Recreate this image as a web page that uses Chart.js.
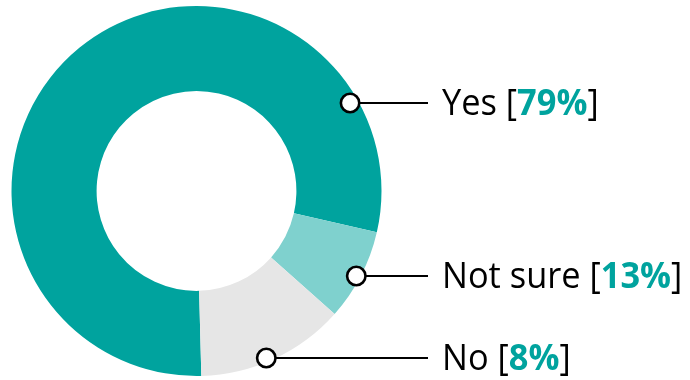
<!DOCTYPE html>
<html>
<head>
<meta charset="utf-8">
<script src="https://cdn.jsdelivr.net/npm/chart.js@4/dist/chart.umd.min.js"></script>
<style>
  html, body { margin: 0; padding: 0; background: #ffffff; }
  #wrap { width: 690px; height: 380px; position: relative; }
</style>
</head>
<body>
<div id="wrap"><canvas id="c" width="690" height="380"></canvas></div>
<script>
// Categories and values
const categories = ['Yes', 'Not sure', 'No'];
// Percentages printed in the labels
const labelPercents = [79, 13, 8];
// Slice sizes as drawn in the reference picture
const sliceValues = [79, 8, 13];
const sliceColors = ['#00A39E', '#7FD1CE', '#E6E6E6'];
// Vertical position of each label row (px)
const labelRows = [103, 276, 358];
// How far inside the outer edge each leader dot sits (px)
const dotInset = [8, 4, 4];

const TEXT_FONT = '"Open Sans", "Noto Sans", sans-serif';
const FONT_SIZE = 36;
const H_SCALE = 0.955;

const leaderPlugin = {
  id: 'leaders',
  afterDraw(chart) {
    const ctx = chart.ctx;
    const arc = chart.getDatasetMeta(0).data[0];
    const cx = arc.x, cy = arc.y, R = arc.outerRadius;
    const lineEnd = 428, textX = 442;
    categories.forEach((cat, i) => {
      const anchorR = R - dotInset[i];
      const y = labelRows[i];
      const dy = y - cy;
      const x0 = cx + Math.sqrt(Math.max(0, anchorR * anchorR - dy * dy));
      ctx.save();
      ctx.strokeStyle = '#000';
      ctx.lineWidth = 2;
      ctx.beginPath();
      ctx.moveTo(x0, y);
      ctx.lineTo(lineEnd, y);
      ctx.stroke();
      ctx.beginPath();
      ctx.arc(x0, y, 9.2, 0, Math.PI * 2);
      ctx.fillStyle = '#fff';
      ctx.fill();
      ctx.lineWidth = 2.6;
      ctx.stroke();
      // text
      ctx.translate(textX, y);
      ctx.scale(H_SCALE, 1);
      ctx.textBaseline = 'middle';
      ctx.textAlign = 'left';
      let x = 0;
      const parts = [
        { t: cat + ' [', bold: false, color: '#000' },
        { t: labelPercents[i] + '%', bold: true, color: sliceColors[0] },
        { t: ']', bold: false, color: '#000' }
      ];
      parts.forEach(p => {
        ctx.font = (p.bold ? 'bold ' : '') + FONT_SIZE + 'px ' + TEXT_FONT;
        ctx.fillStyle = p.color;
        ctx.fillText(p.t, x, 2);
        x += ctx.measureText(p.t).width;
      });
      ctx.restore();
    });
  }
};

new Chart(document.getElementById('c'), {
  type: 'doughnut',
  data: {
    labels: categories,
    datasets: [{
      data: sliceValues,
      backgroundColor: sliceColors,
      borderWidth: 0,
      hoverOffset: 0
    }]
  },
  options: {
    responsive: false,
    animation: false,
    rotation: 178.5,
    cutout: '54%',
    layout: { padding: { left: 11, right: 308, top: 6, bottom: 4 } },
    plugins: {
      legend: { display: false },
      tooltip: { enabled: false }
    }
  },
  plugins: [leaderPlugin]
});
</script>
</body>
</html>
